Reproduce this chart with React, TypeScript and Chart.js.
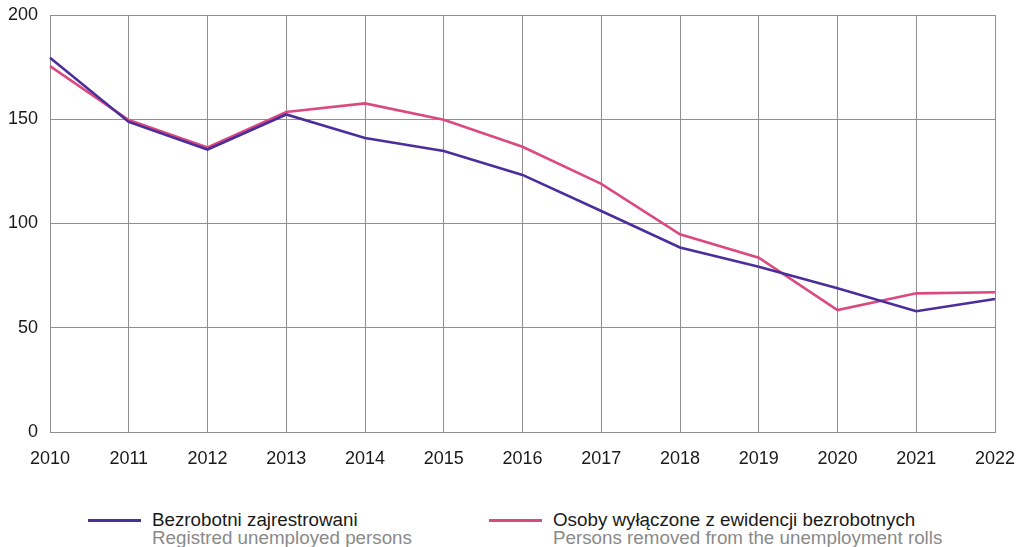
import React, { useEffect, useRef } from "react";
import { Chart, registerables } from "chart.js";

Chart.register(...registerables);

const years = ["2010", "2011", "2012", "2013", "2014", "2015", "2016", "2017", "2018", "2019", "2020", "2021", "2022"];
const registered = [179.5, 148.7, 135.5, 152.3, 141, 134.8, 123.3, 106, 88.5, 79.3, 68.9, 57.9, 63.8];
const removed = [175.5, 149.6, 136.5, 153.5, 157.6, 149.8, 136.8, 119, 94.8, 83.6, 58.5, 66.5, 67];
const yTicks = [0, 50, 100, 150, 200];

const seriesNames = [
  { pl: "Bezrobotni zajrestrowani", en: "Registred unemployed persons", color: "#4B2D9B" },
  { pl: "Osoby wyłączone z ewidencji bezrobotnych", en: "Persons removed from the unemployment rolls", color: "#DA4A80" },
];

const FONT = "'Liberation Sans', Arial, sans-serif";

export default function App() {
  const ref = useRef<HTMLCanvasElement | null>(null);

  useEffect(() => {
    if (!ref.current) return;
    const chart = new Chart(ref.current, {
      type: "line",
      data: {
        labels: years,
        datasets: [
          {
            label: seriesNames[0].pl,
            data: registered,
            borderColor: seriesNames[0].color,
            backgroundColor: seriesNames[0].color,
            borderWidth: 2.6,
            pointRadius: 0,
            tension: 0,
          },
          {
            label: seriesNames[1].pl,
            data: removed,
            borderColor: seriesNames[1].color,
            backgroundColor: seriesNames[1].color,
            borderWidth: 2.6,
            pointRadius: 0,
            tension: 0,
          },
        ],
      },
      options: {
        animation: false,
        responsive: false,
        maintainAspectRatio: false,
        layout: { padding: { top: 15, right: 28, left: 0, bottom: 0 } },
        plugins: { legend: { display: false }, tooltip: { enabled: false } },
        scales: {
          x: {
            offset: false,
            grid: { color: "#8f8f8f", lineWidth: 1, drawTicks: false },
            border: { color: "#8f8f8f" },
            ticks: { color: "#1a1a1a", font: { family: FONT, size: 18 }, padding: 16, maxRotation: 0, autoSkip: false },
            afterFit: (s: any) => { s.height = 48; s.paddingLeft = 0; s.paddingRight = 0; },
          },
          y: {
            min: 0,
            max: 200,
            afterBuildTicks: (s: any) => { s.ticks = yTicks.map((v) => ({ value: v })); },
            grid: { color: "#8f8f8f", lineWidth: 1, drawTicks: false },
            border: { color: "#8f8f8f" },
            ticks: { color: "#1a1a1a", font: { family: FONT, size: 18 }, padding: 12 },
            afterFit: (s: any) => { s.width = 50; s.paddingTop = 0; s.paddingBottom = 0; },
          },
        },
      },
    });
    return () => chart.destroy();
  }, []);

  return (
    <div style={{ position: "absolute", left: 0, top: 0, width: 1023, height: 547, background: "#fff", fontFamily: FONT }}>
      <canvas ref={ref} width={1023} height={480} style={{ display: "block" }} />
      {seriesNames.map((s, i) => (
        <div key={i} style={{ position: "absolute", left: i === 0 ? 88 : 489, top: 511, display: "flex", alignItems: "flex-start" }}>
          <div style={{ width: 53, height: 3, background: s.color, marginTop: 8, marginRight: 11 }} />
          <div style={{ fontSize: 18.8, lineHeight: "17.5px" }}>
            <div style={{ color: "#1a1a1a" }}>{s.pl}</div>
            <div style={{ color: "#8a8a8a" }}>{s.en}</div>
          </div>
        </div>
      ))}
    </div>
  );
}
